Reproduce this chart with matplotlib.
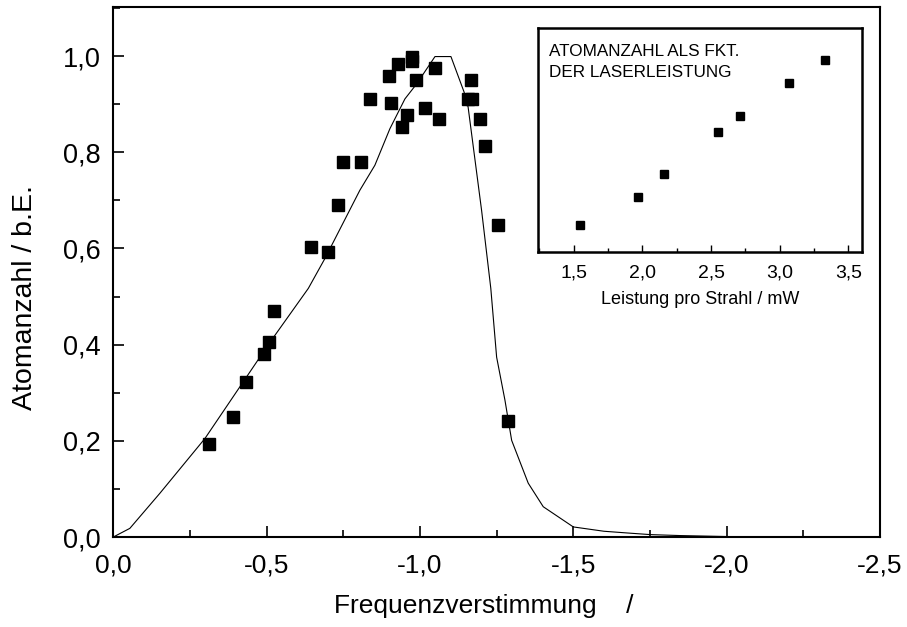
import matplotlib
matplotlib.use("Agg")
import matplotlib.pyplot as plt
from matplotlib.ticker import MultipleLocator, FuncFormatter

plt.rcParams['font.family'] = ['Liberation Sans', 'DejaVu Sans']

# Measured atom numbers vs. detuning
detuning = [-0.313, -0.389, -0.432, -0.493, -0.508, -0.523, -0.644, -0.701,
            -0.733, -0.749, -0.809, -0.837, -0.898, -0.905, -0.927, -0.942,
            -0.958, -0.975, -0.975, -0.988, -1.017, -1.048, -1.062, -1.157,
            -1.167, -1.170, -1.196, -1.213, -1.256, -1.287]
atoms = [0.194, 0.250, 0.323, 0.380, 0.405, 0.470, 0.602, 0.592,
         0.690, 0.779, 0.779, 0.910, 0.959, 0.902, 0.983, 0.853,
         0.878, 0.999, 0.990, 0.951, 0.893, 0.975, 0.870, 0.910,
         0.951, 0.910, 0.870, 0.813, 0.649, 0.242]

# Model curve
model_x = [0.0, -0.054, -0.152, -0.299, -0.511, -0.636, -0.690, -0.804,
           -0.853, -0.902, -0.951, -0.989, -1.049, -1.101, -1.144, -1.157,
           -1.201, -1.231, -1.250, -1.277, -1.299, -1.353, -1.402, -1.500,
           -1.600, -1.685, -1.752, -1.850, -2.000, -2.150, -2.300]
model_y = [0.0, 0.018, 0.091, 0.205, 0.405, 0.517, 0.579, 0.721,
           0.773, 0.849, 0.911, 0.942, 0.999, 0.999, 0.925, 0.894,
           0.679, 0.517, 0.374, 0.285, 0.201, 0.112, 0.063, 0.021,
           0.012, 0.008, 0.005, 0.003, 0.001, 0.0005, 0.0]

# Inset: atom number vs. laser power per beam
power = [1.544, 1.97, 2.16, 2.55, 2.71, 3.07, 3.33]
power_atoms = [0.12, 0.245, 0.35, 0.536, 0.607, 0.754, 0.857]


def comma(v, pos):
    return f"{v:.1f}".replace(".", ",")


fig = plt.figure(figsize=(9.07, 6.27), dpi=100)
ax = fig.add_axes([0.1249, 0.1435, 0.8453, 0.8453])

ax.plot(model_x, model_y, color='black', lw=0.8, zorder=2)
ax.plot(detuning, atoms, linestyle='none', marker='s', markersize=8.6,
        color='black', zorder=3)

ax.set_xlim(0, -2.5)
ax.set_ylim(0, 1.102)
ax.xaxis.set_major_locator(MultipleLocator(0.5))
ax.xaxis.set_minor_locator(MultipleLocator(0.25))
ax.yaxis.set_major_locator(MultipleLocator(0.2))
ax.yaxis.set_minor_locator(MultipleLocator(0.1))
ax.xaxis.set_major_formatter(FuncFormatter(comma))
ax.yaxis.set_major_formatter(FuncFormatter(comma))
ax.tick_params(which='both', direction='in', top=False, right=False,
               width=1.2)
ax.tick_params(axis='x', which='major', length=8, pad=12, labelsize=19)
ax.tick_params(axis='y', which='major', length=8, pad=9, labelsize=19.5)
ax.tick_params(which='minor', length=5)
for s in ax.spines.values():
    s.set_linewidth(1.5)

ax.set_xlabel("Frequenzverstimmung    /", fontsize=19)
ax.xaxis.set_label_coords(0.4835, -0.108)
ax.xaxis.label.set_va('top')
ax.set_ylabel("Atomanzahl / b.E.", fontsize=20.5)
ax.yaxis.set_label_coords(-0.098, 0.451)

# Inset
ins = fig.add_axes([0.5932, 0.598, 0.3572, 0.3573])
ins.plot(power, power_atoms, linestyle='none', marker='s', markersize=5.8,
         color='black')
ins.set_xlim(1.24, 3.6)
ins.set_ylim(0, 1)
ins.xaxis.set_major_locator(MultipleLocator(0.5))
ins.xaxis.set_minor_locator(MultipleLocator(0.25))
ins.xaxis.set_major_formatter(FuncFormatter(comma))
ins.set_yticks([])
ins.tick_params(axis='x', which='both', direction='in', top=False,
                width=1.0, labelsize=14, pad=9)
ins.tick_params(axis='x', which='major', length=5)
ins.tick_params(axis='x', which='minor', length=3)
for s in ins.spines.values():
    s.set_linewidth(1.8)
ins.set_xlabel("Leistung pro Strahl / mW", fontsize=13, labelpad=7)
ins.text(0.035, 0.93, "ATOMANZAHL ALS FKT.\nDER LASERLEISTUNG",
         transform=ins.transAxes, ha='left', va='top', fontsize=12.3,
         linespacing=1.5)

fig.savefig("out.png", dpi=100)
